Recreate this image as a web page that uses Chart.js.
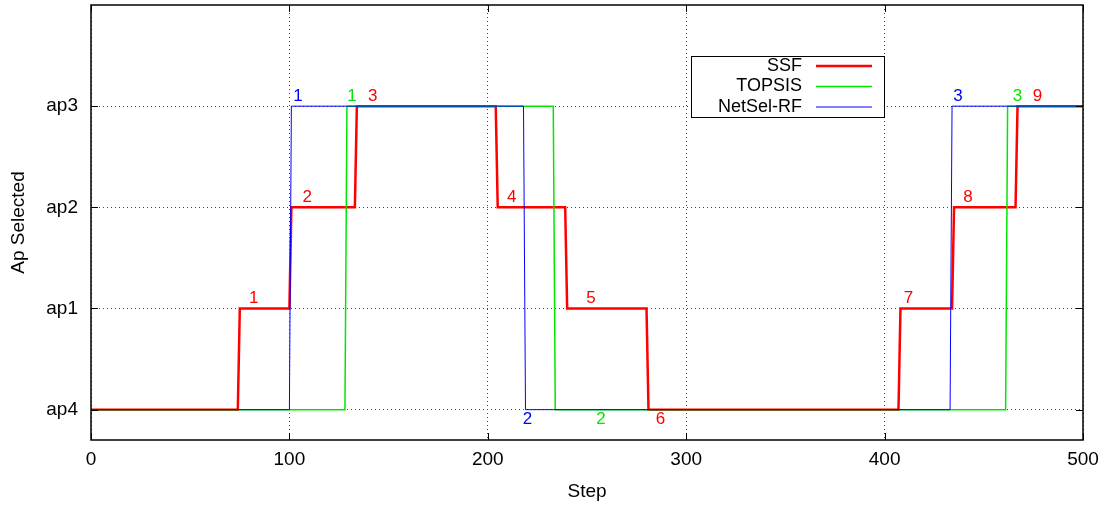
<!DOCTYPE html>
<html>
<head>
<meta charset="utf-8">
<script src="https://cdn.jsdelivr.net/npm/chart.js@4/dist/chart.umd.min.js"></script>
<style>
  html, body { margin: 0; padding: 0; background: #fff; }
  #wrap { width: 1107px; height: 508px; position: relative; }
</style>
</head>
<body>
<div id="wrap"><canvas id="apChart" width="1107" height="508"></canvas></div>
<script>
// --- data ---
const yTickLabels = ['ap4', 'ap1', 'ap2', 'ap3'];
const xTicks = [0, 100, 200, 300, 400, 500];

const ssfStep = [0, 74, 75, 100, 101, 133, 134, 204, 205, 239, 240, 280, 281, 407, 408, 434, 435, 466, 467, 500];
const ssfAp   = [0, 0, 1, 1, 2, 2, 3, 3, 2, 2, 1, 1, 0, 0, 1, 1, 2, 2, 3, 3];

const topsisStep = [0, 128, 129, 233, 234, 461, 462, 500];
const topsisAp   = [0, 0, 3, 3, 0, 0, 3, 3];

const netselStep = [0, 100, 101, 218, 219, 433, 434, 500];
const netselAp   = [0, 0, 3, 3, 0, 0, 3, 3];

// numbered switch markers
const ssfMarkText = ['1', '2', '3', '4', '5', '6', '7', '8', '9'];
const ssfMarkX    = [82, 109, 142, 212, 252, 287, 412, 442, 477];
const ssfMarkY    = [1.1, 2.1, 3.1, 2.1, 1.1, -0.1, 1.1, 2.1, 3.1];

const topsisMarkText = ['1', '2', '3'];
const topsisMarkX    = [131.5, 257, 467];
const topsisMarkY    = [3.1, -0.1, 3.1];

const netselMarkText = ['1', '2', '3'];
const netselMarkX    = [104.3, 220, 437];
const netselMarkY    = [3.1, -0.1, 3.1];

const RED = '#ff0000';
const GREEN = '#00e600';
const BLUE = '#0000ff';
const FONT = '"Liberation Sans", Arial, sans-serif';

function toPoints(xs, ys) {
    return xs.map((x, i) => ({ x: x, y: ys[i] }));
}

/**
 * Frame, inward tick marks, step markers and the boxed legend
 */
const decorPlugin = {
    id: 'decor',
    afterDatasetsDraw(chart) {
        const ctx = chart.ctx;
        const area = chart.chartArea;
        const xs = chart.scales.x;
        const ys = chart.scales.y;

        ctx.save();
        // markers
        ctx.font = '17px ' + FONT;
        ctx.textAlign = 'center';
        ctx.textBaseline = 'middle';
        const groups = [
            [netselMarkText, netselMarkX, netselMarkY, BLUE],
            [topsisMarkText, topsisMarkX, topsisMarkY, GREEN],
            [ssfMarkText, ssfMarkX, ssfMarkY, RED]
        ];
        groups.forEach(([txt, mx, my, col]) => {
            ctx.fillStyle = col;
            txt.forEach((t, i) => {
                ctx.fillText(t, xs.getPixelForValue(mx[i]), ys.getPixelForValue(my[i]));
            });
        });

        // legend box
        const box = { left: 691, top: 56, right: 884, bottom: 117 };
        ctx.fillStyle = '#fff';
        ctx.fillRect(box.left, box.top, box.right - box.left, box.bottom - box.top);
        ctx.strokeStyle = '#000';
        ctx.lineWidth = 1;
        ctx.strokeRect(box.left + 0.5, box.top + 0.5, box.right - box.left, box.bottom - box.top);

        const entries = [
            ['SSF', RED, 2.5, 66],
            ['TOPSIS', GREEN, 1.5, 86.5],
            ['NetSel-RF', BLUE, 1, 107]
        ];
        ctx.font = '18px ' + FONT;
        ctx.textAlign = 'right';
        entries.forEach(([label, col, w, y]) => {
            ctx.fillStyle = '#000';
            ctx.fillText(label, 802, y);
            ctx.strokeStyle = col;
            ctx.lineWidth = w;
            ctx.beginPath();
            ctx.moveTo(816, y);
            ctx.lineTo(872, y);
            ctx.stroke();
        });

        // inward tick marks
        ctx.strokeStyle = '#000';
        ctx.lineWidth = 1;
        ctx.beginPath();
        xTicks.forEach(v => {
            const px = Math.round(xs.getPixelForValue(v)) + 0.5;
            ctx.moveTo(px, area.bottom); ctx.lineTo(px, area.bottom - 7);
            ctx.moveTo(px, area.top); ctx.lineTo(px, area.top + 7);
        });
        yTickLabels.forEach((_, v) => {
            const py = Math.round(ys.getPixelForValue(v)) + 0.5;
            ctx.moveTo(area.left, py); ctx.lineTo(area.left + 7, py);
            ctx.moveTo(area.right, py); ctx.lineTo(area.right - 7, py);
        });
        ctx.stroke();

        // frame
        ctx.lineWidth = 1.5;
        ctx.strokeRect(area.left, area.top, area.right - area.left, area.bottom - area.top);
        ctx.restore();
    }
};

const ctx = document.getElementById('apChart');
new Chart(ctx, {
    type: 'line',
    data: {
        datasets: [
            {
                label: 'NetSel-RF',
                data: toPoints(netselStep, netselAp),
                borderColor: BLUE,
                borderWidth: 1,
                order: 0
            },
            {
                label: 'TOPSIS',
                data: toPoints(topsisStep, topsisAp),
                borderColor: GREEN,
                borderWidth: 1.5,
                order: 1
            },
            {
                label: 'SSF',
                data: toPoints(ssfStep, ssfAp),
                borderColor: RED,
                borderWidth: 2.5,
                order: 2
            }
        ]
    },
    options: {
        responsive: false,
        animation: false,
        events: [],
        layout: { padding: { top: 5, right: 24, left: 0, bottom: 0 } },
        elements: {
            point: { radius: 0 },
            line: { tension: 0, fill: false }
        },
        plugins: {
            legend: { display: false },
            tooltip: { enabled: false }
        },
        scales: {
            x: {
                type: 'linear',
                min: 0,
                max: 500,
                afterBuildTicks: scale => { scale.ticks = xTicks.map(v => ({ value: v })); },
                afterFit: scale => {
                    scale.height = 68;
                    scale.paddingLeft = 0;
                    scale.paddingRight = 0;
                },
                ticks: {
                    color: '#000',
                    padding: 8,
                    maxRotation: 0,
                    font: { family: FONT, size: 19 }
                },
                grid: { color: '#444', lineWidth: 1, drawTicks: false },
                border: { display: false, dash: [1, 3] },
                title: {
                    display: true,
                    text: 'Step',
                    color: '#000',
                    padding: { top: 0, bottom: 5 },
                    font: { family: FONT, size: 19 }
                }
            },
            y: {
                type: 'linear',
                min: -0.3,
                max: 4,
                afterBuildTicks: scale => { scale.ticks = yTickLabels.map((_, i) => ({ value: i })); },
                afterFit: scale => {
                    scale.width = 91;
                    scale.paddingTop = 0;
                    scale.paddingBottom = 0;
                },
                ticks: {
                    color: '#000',
                    padding: 13,
                    font: { family: FONT, size: 19 },
                    callback: v => yTickLabels[v]
                },
                grid: { color: '#444', lineWidth: 1, drawTicks: false },
                border: { display: false, dash: [1, 3] },
                title: {
                    display: true,
                    text: 'Ap Selected',
                    color: '#000',
                    padding: { top: 7, bottom: 0 },
                    font: { family: FONT, size: 19 }
                }
            }
        }
    },
    plugins: [decorPlugin]
});
</script>
</body>
</html>
